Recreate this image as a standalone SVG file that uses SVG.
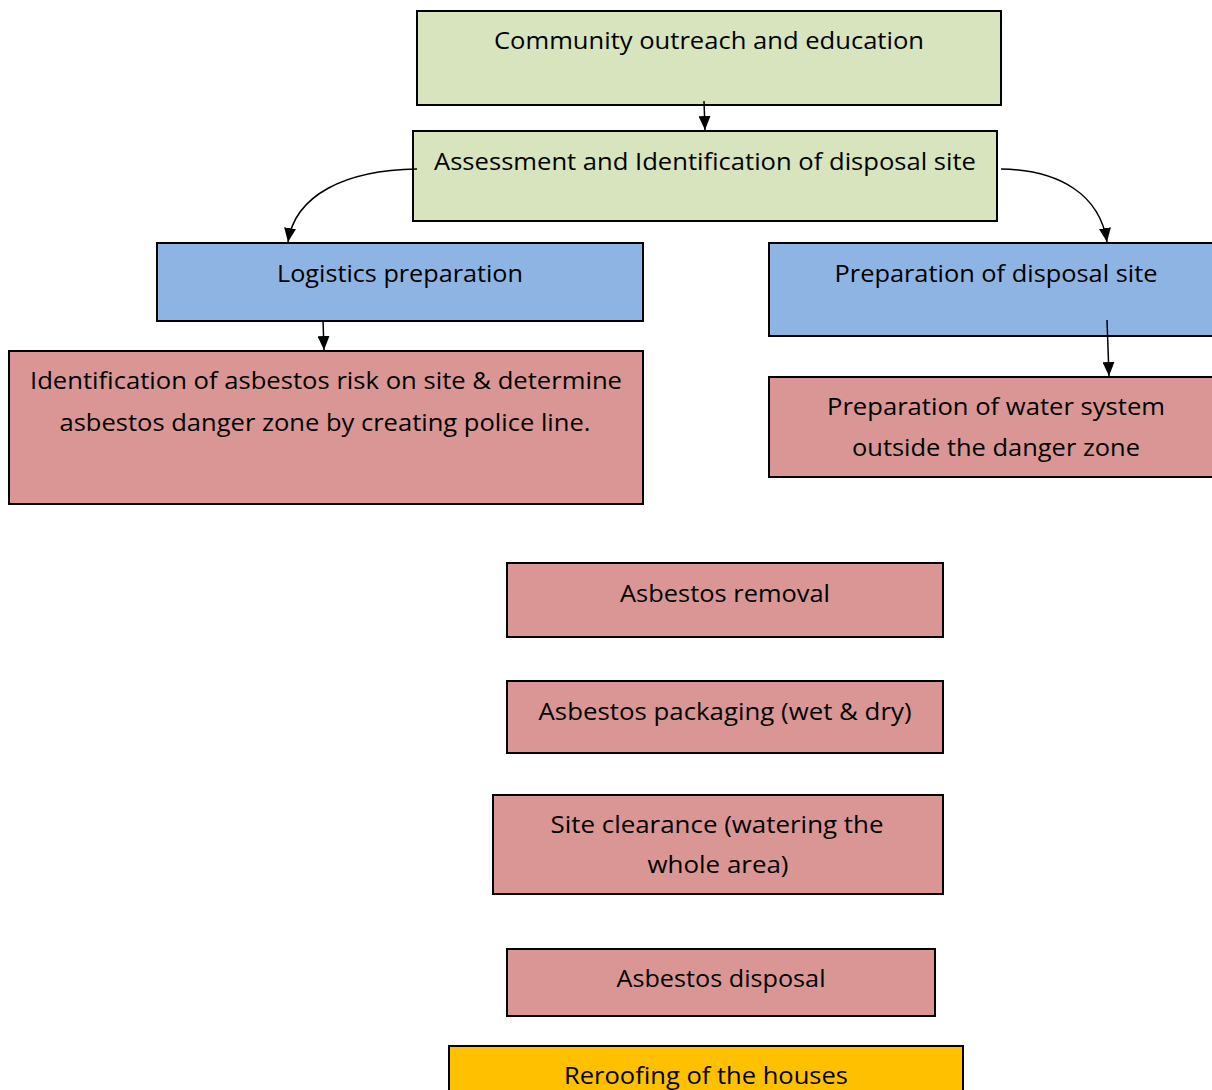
<svg xmlns="http://www.w3.org/2000/svg" width="1212" height="1090" viewBox="0 0 1212 1090">
<style>
.b{stroke:#000;stroke-width:2}
.g{fill:#D7E4BD}.bl{fill:#8EB4E3}.p{fill:#D99694}.y{fill:#FFC000}
text{font-family:"Open Sans","Noto Sans","Liberation Sans",sans-serif;font-size:24px;fill:#000;text-anchor:middle}
.c{fill:none;stroke:#000;stroke-width:1.5}
</style>
<defs>
<marker id="ah" viewBox="0 0 14 12" refX="14" refY="6" markerWidth="14" markerHeight="12" markerUnits="userSpaceOnUse" orient="auto">
<path d="M0,0 L14,6 L0,12 Z" fill="#000"/>
</marker>
</defs>
<rect width="1212" height="1090" fill="#fff"/>
<g id="n1"><rect class="b g" x="417" y="11" width="584" height="94"/><text x="709" y="49" textLength="430" lengthAdjust="spacingAndGlyphs">Community outreach and education</text></g>
<g id="n2"><rect class="b g" x="413" y="131" width="584" height="90"/><text x="705" y="170" textLength="542" lengthAdjust="spacingAndGlyphs">Assessment and Identification of disposal site</text></g>
<g id="n3"><rect class="b bl" x="157" y="243" width="486" height="78"/><text x="400" y="282" textLength="246" lengthAdjust="spacingAndGlyphs">Logistics preparation</text></g>
<g id="n4"><rect class="b bl" x="769" y="243" width="460" height="93"/><text x="996" y="282" textLength="323" lengthAdjust="spacingAndGlyphs">Preparation of disposal site</text></g>
<g id="n5"><rect class="b p" x="9" y="351" width="634" height="153"/><text x="326" y="389" textLength="592" lengthAdjust="spacingAndGlyphs">Identification of asbestos risk on site &amp; determine</text><text x="325" y="431" textLength="531" lengthAdjust="spacingAndGlyphs">asbestos danger zone by creating police line.</text></g>
<g id="n6"><rect class="b p" x="769" y="377" width="460" height="100"/><text x="996" y="415" textLength="338" lengthAdjust="spacingAndGlyphs">Preparation of water system</text><text x="996" y="456" textLength="288" lengthAdjust="spacingAndGlyphs">outside the danger zone</text></g>
<g id="n7"><rect class="b p" x="507" y="563" width="436" height="74"/><text x="725" y="602" textLength="210" lengthAdjust="spacingAndGlyphs">Asbestos removal</text></g>
<g id="n8"><rect class="b p" x="507" y="681" width="436" height="72"/><text x="725" y="720" textLength="373" lengthAdjust="spacingAndGlyphs">Asbestos packaging (wet &amp; dry)</text></g>
<g id="n9"><rect class="b p" x="493" y="795" width="450" height="99"/><text x="717" y="833" textLength="333" lengthAdjust="spacingAndGlyphs">Site clearance (watering the</text><text x="718" y="873" textLength="141" lengthAdjust="spacingAndGlyphs">whole area)</text></g>
<g id="n10"><rect class="b p" x="507" y="949" width="428" height="67"/><text x="721" y="987" textLength="209" lengthAdjust="spacingAndGlyphs">Asbestos disposal</text></g>
<g id="n11"><rect class="b y" x="449" y="1046" width="514" height="60"/><text x="706" y="1084" textLength="284" lengthAdjust="spacingAndGlyphs">Reroofing of the houses</text></g>
<g id="connectors">
<path class="c" d="M704,101 L705,130" marker-end="url(#ah)"/>
<path class="c" d="M417,169 C345,170 295,195 288,242" marker-end="url(#ah)"/>
<path class="c" d="M1001,169 C1060,170 1100,195 1107,242" marker-end="url(#ah)"/>
<path class="c" d="M323,320 L324,350" marker-end="url(#ah)"/>
<path class="c" d="M1107,320 L1109,376" marker-end="url(#ah)"/>
</g>
</svg>
